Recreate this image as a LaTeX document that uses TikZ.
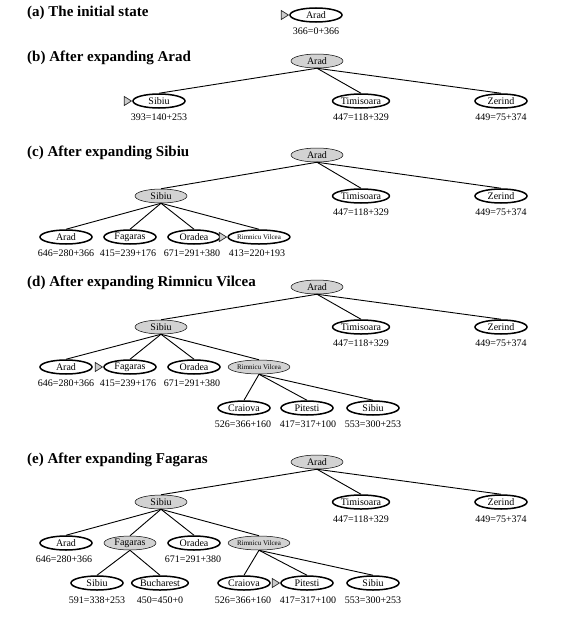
\documentclass[tikz,border=0pt]{standalone}
\usepackage{fontspec}
\setmainfont{Liberation Serif}
\usetikzlibrary{shapes.geometric,calc}
\newcommand\startmark[1]{\path[mk] ($(#1.west)+(-8,4.5)$) -- ($(#1.west)+(-8,-4.5)$) -- ($(#1.west)+(-0.8,0)$) -- cycle;}
\begin{document}
\begin{tikzpicture}[x=1pt,y=1pt,
 front/.style={ellipse,draw,line width=1.5pt,minimum width=52pt,minimum height=14pt,inner sep=0pt,font=\fontsize{10}{10}\selectfont},
 done/.style={front,line width=0.5pt,fill=gray!35},
 rv/.style={font=\fontsize{7}{7}\selectfont},
 lab/.style={inner sep=0pt,font=\fontsize{10}{11}\selectfont},
 ttl/.style={anchor=west,inner sep=0pt,font=\fontsize{15}{16}\selectfont\bfseries},
 edge/.style={line width=0.9pt},
 mk/.style={fill=gray!40,draw=black!85,line width=0.7pt}]
\useasboundingbox (0,0) rectangle (569,-621);

% (a)
\node[ttl] (ta) at (27,-13) {(a) The initial state};
\node[front] (a0) at (316,-15) {Arad};
\node[lab] (a0l) at (316,-31) {366=0+366};
\startmark{a0}

% (b)
\node[ttl] (tb) at (27,-58) {(b) After expanding Arad};
\node[done] (b0) at (317,-61) {Arad};
\node[front] (b1) at (159,-101) {Sibiu};
\node[front] (b2) at (361,-101) {Timisoara};
\node[front] (b3) at (501,-101) {Zerind};
\node[lab] (b1l) at (159,-117) {393=140+253};
\node[lab] (b2l) at (361,-117) {447=118+329};
\node[lab] (b3l) at (501,-117) {449=75+374};
\foreach \c in {b1,b2,b3} \draw[edge] (b0.south) -- (\c.north);
\startmark{b1}

% (c)
\node[ttl] (tc) at (27,-153) {(c) After expanding Sibiu};
\node[done] (c0) at (317,-155) {Arad};
\node[done] (c1) at (161,-196) {Sibiu};
\node[front] (c2) at (361,-196) {Timisoara};
\node[front] (c3) at (501,-196) {Zerind};
\node[lab] (c2l) at (361,-212) {447=118+329};
\node[lab] (c3l) at (501,-212) {449=75+374};
\node[front] (c11) at (66,-237) {Arad};
\node[front] (c12) at (130,-237) {Fagaras};
\node[front] (c13) at (194,-237) {Oradea};
\node[front,rv] (c14) at (259,-237) {Rimnicu Vilcea};
\node[lab] (c11l) at (66,-253) {646=280+366};
\node[lab] (c12l) at (128,-253) {415=239+176};
\node[lab] (c13l) at (192,-253) {671=291+380};
\node[lab] (c14l) at (257,-253) {413=220+193};
\foreach \c in {c1,c2,c3} \draw[edge] (c0.south) -- (\c.north);
\foreach \c in {c11,c12,c13,c14} \draw[edge] (c1.south) -- (\c.north);
\startmark{c14}

% (d)
\node[ttl] (td) at (27,-283) {(d) After expanding Rimnicu Vilcea};
\node[done] (d0) at (317,-287) {Arad};
\node[done] (d1) at (161,-327) {Sibiu};
\node[front] (d2) at (361,-327) {Timisoara};
\node[front] (d3) at (501,-327) {Zerind};
\node[lab] (d2l) at (361,-343) {447=118+329};
\node[lab] (d3l) at (501,-343) {449=75+374};
\node[front] (d11) at (66,-367) {Arad};
\node[front] (d12) at (130,-367) {Fagaras};
\node[front] (d13) at (194,-367) {Oradea};
\node[done,rv] (d14) at (259,-367) {Rimnicu Vilcea};
\node[lab] (d11l) at (66,-383) {646=280+366};
\node[lab] (d12l) at (128,-383) {415=239+176};
\node[lab] (d13l) at (192,-383) {671=291+380};
\node[front] (d141) at (244,-408) {Craiova};
\node[front] (d142) at (307,-408) {Pitesti};
\node[front] (d143) at (373,-408) {Sibiu};
\node[lab] (d141l) at (243,-424) {526=366+160};
\node[lab] (d142l) at (308,-424) {417=317+100};
\node[lab] (d143l) at (373,-424) {553=300+253};
\foreach \c in {d1,d2,d3} \draw[edge] (d0.south) -- (\c.north);
\foreach \c in {d11,d12,d13,d14} \draw[edge] (d1.south) -- (\c.north);
\foreach \c in {d141,d142,d143} \draw[edge] (d14.south) -- (\c.north);
\startmark{d12}

% (e)
\node[ttl] (te) at (27,-460) {(e) After expanding Fagaras};
\node[done] (e0) at (317,-462) {Arad};
\node[done] (e1) at (161,-502) {Sibiu};
\node[front] (e2) at (361,-502) {Timisoara};
\node[front] (e3) at (501,-502) {Zerind};
\node[lab] (e2l) at (361,-519) {447=118+329};
\node[lab] (e3l) at (501,-519) {449=75+374};
\node[front] (e11) at (66,-543) {Arad};
\node[done] (e12) at (130,-543) {Fagaras};
\node[front] (e13) at (194,-543) {Oradea};
\node[done,rv] (e14) at (259,-543) {Rimnicu Vilcea};
\node[lab] (e11l) at (64,-559) {646=280+366};
\node[lab] (e13l) at (193,-559) {671=291+380};
\node[front] (e121) at (97,-583) {Sibiu};
\node[front] (e122) at (160,-583) {Bucharest};
\node[lab] (e121l) at (97,-600) {591=338+253};
\node[lab] (e122l) at (160,-600) {450=450+0};
\node[front] (e141) at (244,-583) {Craiova};
\node[front] (e142) at (307,-583) {Pitesti};
\node[front] (e143) at (373,-583) {Sibiu};
\node[lab] (e141l) at (243,-600) {526=366+160};
\node[lab] (e142l) at (308,-600) {417=317+100};
\node[lab] (e143l) at (373,-600) {553=300+253};
\foreach \c in {e1,e2,e3} \draw[edge] (e0.south) -- (\c.north);
\foreach \c in {e11,e12,e13,e14} \draw[edge] (e1.south) -- (\c.north);
\foreach \c in {e121,e122} \draw[edge] (e12.south) -- (\c.north);
\foreach \c in {e141,e142,e143} \draw[edge] (e14.south) -- (\c.north);
\startmark{e142}
\end{tikzpicture}
\end{document}
